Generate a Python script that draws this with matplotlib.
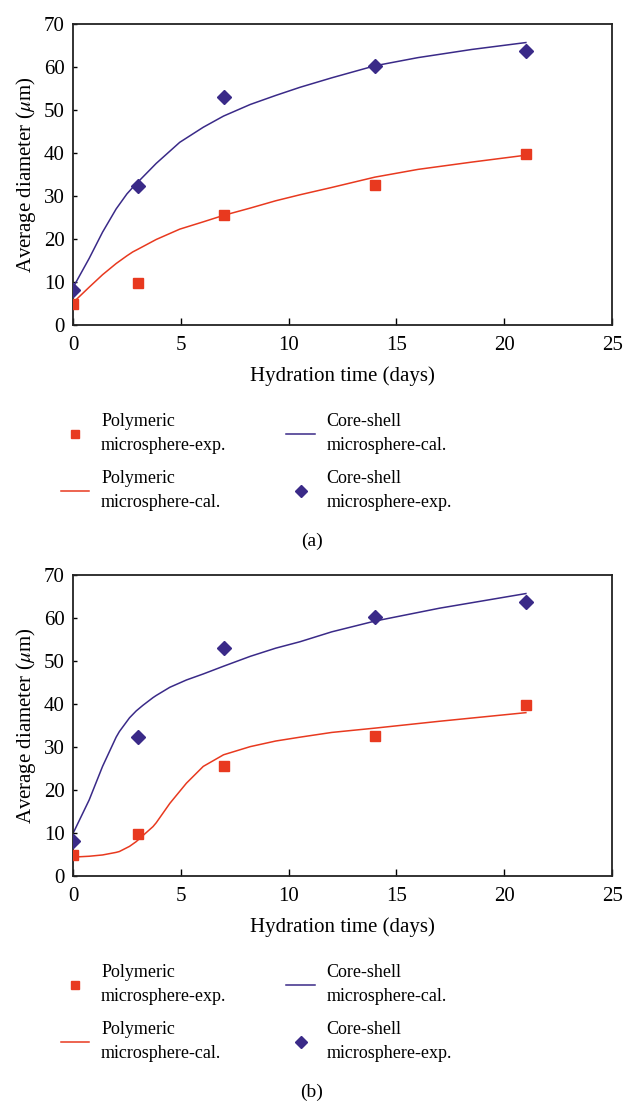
import matplotlib
matplotlib.use("Agg")
import matplotlib.pyplot as plt

plt.rcParams['font.family'] = ['Liberation Serif', 'DejaVu Serif']
plt.rcParams['mathtext.fontset'] = 'stix'

RED = '#e8391f'
BLUE = '#3a2a88'

# experimental points (same in both panels)
days = [0, 3, 7, 14, 21]
poly_exp = [4.8, 9.7, 25.6, 32.6, 39.8]
core_exp = [8.2, 32.4, 53.0, 60.3, 63.8]

# calculated curves, panel (a)
t_a = [0, 0.75, 1.37, 2.0, 2.5, 2.77, 3.0, 3.86, 4.95, 6.04, 6.98, 8.22, 9.4, 10.53, 12.0, 14.0, 16.0, 18.5, 21.0]
poly_cal_a = [5.2, 8.8, 11.7, 14.3, 16.1, 17.0, 17.6, 19.9, 22.3, 24.0, 25.5, 27.2, 28.9, 30.3, 32.0, 34.4, 36.2, 37.9, 39.5]
core_cal_a = [8.7, 15.5, 21.6, 27.0, 30.5, 32.0, 33.2, 37.6, 42.5, 46.0, 48.6, 51.3, 53.4, 55.3, 57.5, 60.3, 62.2, 64.1, 65.7]

# calculated curves, panel (b)
t_b = [0, 0.75, 1.37, 2.0, 2.15, 2.62, 2.93, 3.24, 3.71, 3.86, 4.49, 5.26, 6.04, 6.98, 8.22, 9.4,
       10.53, 12.0, 14.0, 17.0, 21.0]
poly_cal_b = [4.4, 4.6, 4.9, 5.5, 5.7, 6.9, 8.0, 9.4, 11.5, 12.4, 16.9, 21.6, 25.5, 28.2, 30.1, 31.4,
              32.3, 33.4, 34.4, 36.0, 38.0]
core_cal_b = [9.9, 17.7, 25.5, 32.3, 33.6, 36.8, 38.4, 39.7, 41.5, 42.0, 43.9, 45.6, 47.0, 48.8, 51.1, 53.0,
              54.5, 56.8, 59.3, 62.3, 65.7]

xticks = [0, 5, 10, 15, 20, 25]
yticks = [0, 10, 20, 30, 40, 50, 60, 70]

fig = plt.figure(figsize=(6.24, 11.04), dpi=100)

panels = [
    (0.7056, t_a, poly_cal_a, core_cal_a, '(a)', 0.5100),
    (0.2065, t_b, poly_cal_b, core_cal_b, '(b)', 0.0110),
]

for bottom, t, pc, cc, tag, tag_y in panels:
    ax = fig.add_axes([0.117, bottom, 0.864, 0.2726])
    h1, = ax.plot(days, poly_exp, 's', color=RED, markersize=7.2, linestyle='none',
                  label='Polymeric\nmicrosphere-exp.', zorder=3)
    h2, = ax.plot(t, pc, '-', color=RED, lw=1.1, label='Polymeric\nmicrosphere-cal.')
    h3, = ax.plot(t, cc, '-', color=BLUE, lw=1.1, label='Core-shell\nmicrosphere-cal.')
    h4, = ax.plot(days, core_exp, 'D', color=BLUE, markersize=7.2, linestyle='none',
                  label='Core-shell\nmicrosphere-exp.', zorder=3)
    ax.set_xlim(0, 25)
    ax.set_ylim(0, 70)
    ax.set_xticks(xticks)
    ax.set_yticks(yticks)
    ax.tick_params(axis='x', direction='in', length=5, width=1, labelsize=15, pad=8)
    ax.tick_params(axis='y', direction='in', length=3, width=1, labelsize=15, pad=6)
    for s in ax.spines.values():
        s.set_linewidth(1.3)
        s.set_color('#222222')
    ax.set_xlabel('Hydration time (days)', fontsize=15, labelpad=8)
    ax.set_ylabel(r'Average diameter ($\mu$m)', fontsize=15, labelpad=4)

    leg = fig.legend([h1, h2, h3, h4], [h.get_label() for h in [h1, h2, h3, h4]],
                     loc='upper left', bbox_to_anchor=(0.097, bottom - 0.080),
                     ncol=2, frameon=False, fontsize=13, handlelength=1.6,
                     handletextpad=0.65, columnspacing=3.3, labelspacing=0.85,
                     borderpad=0, borderaxespad=0, markerscale=0.8)
    for tx in leg.get_texts():
        tx.set_linespacing(1.55)
    fig.text(0.5, tag_y, tag, ha='center', va='center', fontsize=14)

fig.savefig('out.png', dpi=100)
